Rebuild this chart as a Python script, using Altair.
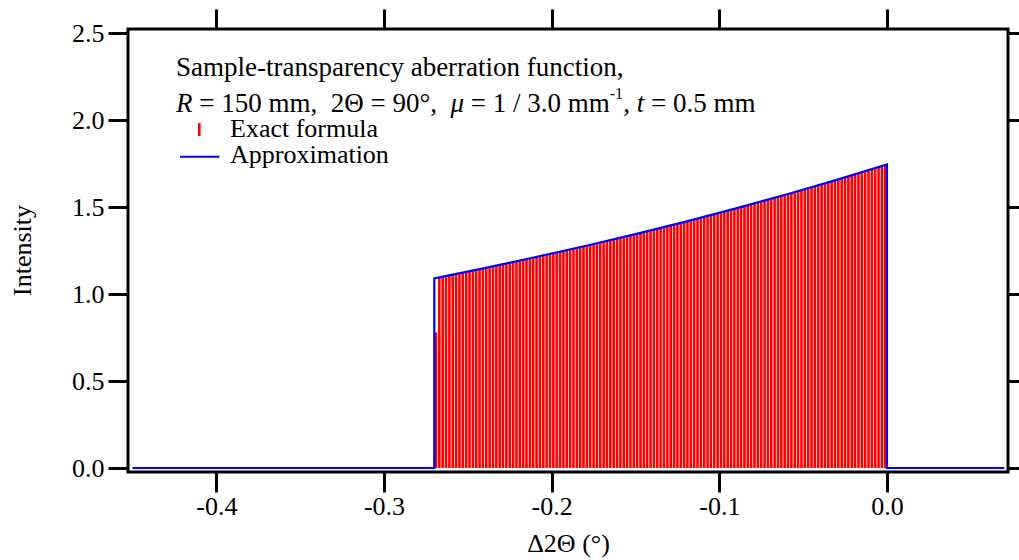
import altair as alt
import pandas as pd

# ---------------- data ----------------
# "Exact formula" sticks: first x position and spacing of the sampled grid
stick_x0 = -0.269
stick_dx = 0.002
stick_y = [
    0.780,
    1.097, 1.101, 1.105, 1.109, 1.113, 1.117, 1.121, 1.124, 1.128, 1.132,
    1.136, 1.140, 1.144, 1.148, 1.152, 1.156, 1.160, 1.164, 1.168, 1.172,
    1.176, 1.180, 1.185, 1.189, 1.193, 1.197, 1.201, 1.206, 1.210, 1.214,
    1.218, 1.222, 1.227, 1.231, 1.235, 1.240, 1.244, 1.248, 1.253, 1.257,
    1.261, 1.266, 1.270, 1.275, 1.279, 1.284, 1.288, 1.292, 1.297, 1.301,
    1.306, 1.310, 1.315, 1.320, 1.324, 1.329, 1.334, 1.338, 1.343, 1.347,
    1.352, 1.357, 1.362, 1.366, 1.371, 1.376, 1.381, 1.386, 1.390, 1.395,
    1.400, 1.405, 1.410, 1.415, 1.420, 1.425, 1.430, 1.435, 1.440, 1.445,
    1.450, 1.455, 1.460, 1.465, 1.470, 1.475, 1.480, 1.485, 1.491, 1.496,
    1.501, 1.506, 1.511, 1.517, 1.522, 1.527, 1.533, 1.538, 1.543, 1.549,
    1.554, 1.560, 1.565, 1.571, 1.576, 1.582, 1.587, 1.593, 1.598, 1.604,
    1.609, 1.615, 1.620, 1.626, 1.632, 1.638, 1.643, 1.649, 1.655, 1.660,
    1.666, 1.672, 1.678, 1.684, 1.690, 1.696, 1.701, 1.707, 1.713, 1.719,
    1.725, 1.731, 1.737, 1.743,
]
stick_x = [round(stick_x0 + stick_dx * i, 4) for i in range(len(stick_y))]

# "Approximation" curve (step + rising curve)
approx_x = [-0.45, -0.27, -0.27, -0.24, -0.21, -0.18, -0.15, -0.12, -0.09,
            -0.06, -0.03, 0.0, 0.0, 0.07]
approx_y = [0.0, 0.0, 1.090, 1.150, 1.212, 1.277, 1.345, 1.417, 1.493,
            1.573, 1.657, 1.746, 0.0, 0.0]

x_ticks = [-0.4, -0.3, -0.2, -0.1, 0.0]
y_ticks = [0.0, 0.5, 1.0, 1.5, 2.0, 2.5]
x_domain = [-0.4527, 0.0722]
y_domain = [-0.023, 2.525]

x_title = "Δ2Θ (°)"
y_title = "Intensity"
note_line1 = "Sample-transparency aberration function,"
legend_labels = ["Exact formula", "Approximation"]

# ---------------- styling ----------------
FONT = "Liberation Serif"
NB = "\u00a0"
W, H = 880, 443
RED = "#ff0000"
BLUE = "#0000ff"

sticks_df = pd.DataFrame({"x": stick_x, "y": stick_y})
approx_df = pd.DataFrame({"x": approx_x, "y": approx_y, "i": list(range(len(approx_x)))})
one = pd.DataFrame({"a": [0]})

minus_fix = "replace(format(datum.value, '.1f'), '\u2212', '-')"

x_scale = alt.Scale(domain=x_domain, nice=False, zero=False)
y_scale = alt.Scale(domain=y_domain, nice=False, zero=False)

ax_common = dict(labelFont=FONT, labelFontSize=26, labelColor="black",
                 titleFont=FONT, titleFontSize=26, titleFontWeight="normal",
                 titleColor="black", tickColor="black", tickWidth=3, tickSize=20,
                 grid=False, domain=False)

sticks = alt.Chart(sticks_df).mark_rule(color=RED, strokeWidth=2.6).encode(
    x=alt.X("x:Q", scale=x_scale,
            axis=alt.Axis(values=x_ticks, orient="bottom", labelExpr=minus_fix,
                          title=x_title, labelBaseline="middle", labelPadding=14,
                          titleY=71, titleBaseline="middle", **ax_common)),
    y=alt.Y("y:Q", scale=y_scale,
            axis=alt.Axis(values=y_ticks, orient="left", format=".1f",
                          title=y_title, labelPadding=4, labelBaseline="middle",
                          titleX=-106, titleY=221, titleAngle=270,
                          titleBaseline="middle", titleAlign="center", **ax_common)),
    y2=alt.datum(0),
)

approx = alt.Chart(approx_df).mark_line(color=BLUE, strokeWidth=2.2).encode(
    x=alt.X("x:Q", scale=x_scale,
            axis=alt.Axis(values=x_ticks, orient="top", labels=False, title=None, **ax_common)),
    y=alt.Y("y:Q", scale=y_scale,
            axis=alt.Axis(values=y_ticks, orient="right", labels=False, title=None, **ax_common)),
    order=alt.Order("i:Q"),
)


def txt(s, px, py, size=27, style="normal"):
    return alt.Chart(one).mark_text(
        font=FONT, fontSize=size, fontStyle=style, align="left",
        baseline="alphabetic", color="black",
    ).encode(x=alt.value(px), y=alt.value(py), text=alt.value(s))


S = 27.0
SP = 0.25 * S
x0 = 48
b1 = 46.5
b2 = 82.5
texts = [
    txt(note_line1, x0, b1),
    txt("R", x0, b2, style="italic"),
    txt(f"={NB}150{NB}mm,{NB}{NB}2Θ{NB}={NB}90°,", x0 + 0.611 * S + SP, b2),
    txt("μ", x0 + 10.167 * S, b2, style="italic"),
    txt(f"={NB}1{NB}/{NB}3.0{NB}mm", x0 + 10.667 * S + SP, b2),
    txt("-1", x0 + 16.065 * S, b2 - 13, size=16),
    txt(",", x0 + 16.565 * S, b2),
    txt("t", x0 + 17.065 * S, b2, style="italic"),
    txt(f"={NB}0.5{NB}mm", x0 + 17.343 * S + SP, b2),
    txt(legend_labels[0], 102, 107.7, size=26),
    txt(legend_labels[1], 102, 134, size=26),
]

leg_red = alt.Chart(one).mark_rule(color=RED, strokeWidth=2.6).encode(
    x=alt.value(71.3), y=alt.value(94), y2=alt.value(107))
leg_blue = alt.Chart(one).mark_rule(color=BLUE, strokeWidth=2).encode(
    x=alt.value(52), x2=alt.value(91.3), y=alt.value(127.7))

chart = alt.layer(sticks, approx, leg_red, leg_blue, *texts).resolve_axis(
    x="independent", y="independent"
).properties(
    width=W, height=H,
    autosize=alt.AutoSizeParams(type="none"),
    padding={"left": 128, "top": 29, "right": 11, "bottom": 88},
).configure_view(
    stroke="black", strokeWidth=3,
).configure_axis(
    grid=False, domain=False,
    labelFont=FONT, labelFontSize=26, labelColor="black",
    titleFont=FONT, titleFontSize=26, titleFontWeight="normal", titleColor="black",
)

chart.save("out.html", embed_options={"renderer": "svg", "actions": False})
